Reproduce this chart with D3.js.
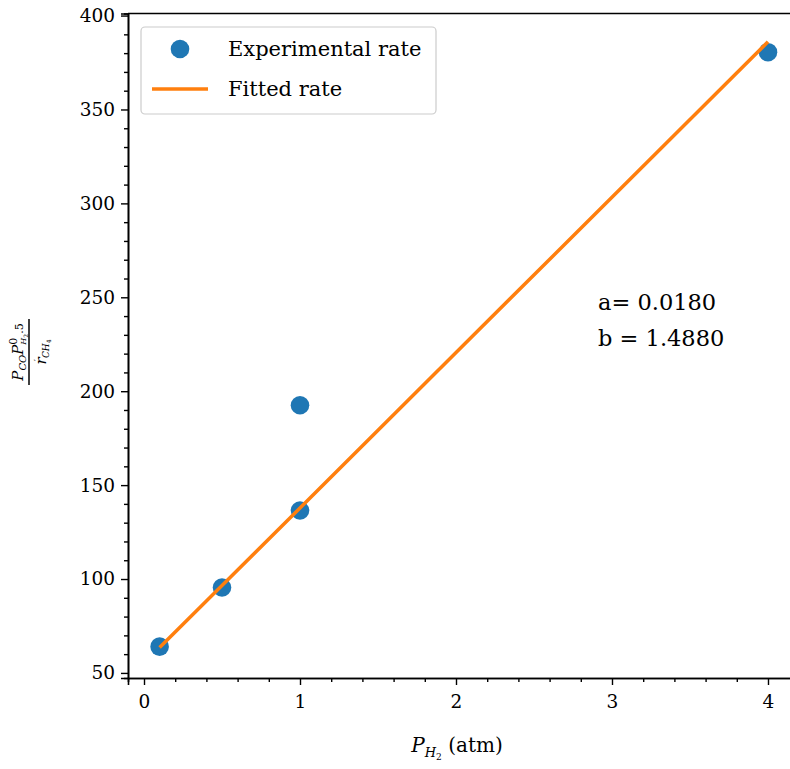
<!DOCTYPE html>
<html>
<head>
<meta charset="utf-8">
<script src="https://cdn.jsdelivr.net/npm/d3@7"></script>
<style>
  body { margin: 0; background: #fff; }
  svg text { font-family: "DejaVu Serif", serif; fill: #000; }
</style>
</head>
<body>
<div id="chart"></div>
<script>
// данные
const pressure = [0.1, 0.5, 1, 1, 4]
const experimental = [64, 95.5, 136.5, 192.5, 380.5]
const fitted = [63.6, 96.5, 137.8, 137.8, 386]
const xTicks = [0, 1, 2, 3, 4]
const yTicks = [50, 100, 150, 200, 250, 300, 350, 400]
const seriesNames = ['Experimental rate', 'Fitted rate']
const fitParams = ['a= 0.0180', 'b = 1.4880']

const W = 790, H = 769
const mLeft = 128, mRight = 800, mTop = 13.5, mBottom = 678

const svg = d3.select('#chart').append('svg')
    .attr('width', W).attr('height', H)

const x = d3.scaleLinear().domain([-0.1026, 4.2052]).range([mLeft, mRight])
const y = d3.scaleLinear().domain([47.3, 401.1]).range([mBottom, mTop])

// оси
svg.append('g').attr('transform', `translate(0,${mBottom})`)
    .call(d3.axisBottom(x).tickValues(xTicks).tickFormat(d3.format('d')).tickSize(7).tickPadding(10))
svg.append('g').attr('transform', `translate(0,${mBottom})`)
    .call(d3.axisBottom(x).tickValues(d3.range(0, 4.21, 0.2).filter(v => Math.abs(v - Math.round(v)) > 1e-6)).tickFormat('').tickSize(4))
svg.append('g').attr('transform', `translate(${mLeft},0)`)
    .call(d3.axisLeft(y).tickValues(yTicks).tickSize(7).tickPadding(6))
svg.append('g').attr('transform', `translate(${mLeft},0)`)
    .call(d3.axisLeft(y).tickValues(d3.range(50, 401, 10).filter(v => v % 50 !== 0)).tickFormat('').tickSize(4))

svg.selectAll('.domain').attr('stroke', '#000').attr('stroke-width', 1.6)
svg.selectAll('.tick line').attr('stroke', '#000').attr('stroke-width', 1.4)
svg.selectAll('.tick text').style('font-size', '18.5px')

// верхняя рамка
svg.append('line').attr('x1', mLeft).attr('x2', W).attr('y1', mTop).attr('y2', mTop)
    .attr('stroke', '#000').attr('stroke-width', 1.6)

// точки и линия
svg.selectAll('circle.pt').data(pressure).enter().append('circle')
    .attr('class', 'pt')
    .attr('cx', d => x(d))
    .attr('cy', (d, i) => y(experimental[i]))
    .attr('r', 9.3)
    .attr('fill', '#1f77b4')

const line = d3.line().x(d => x(d[0])).y(d => y(d[1]))
svg.append('path')
    .datum(pressure.map((p, i) => [p, fitted[i]]))
    .attr('d', line)
    .attr('fill', 'none')
    .attr('stroke', '#ff7f0e')
    .attr('stroke-width', 3.5)

// легенда
const lg = svg.append('g')
lg.append('rect').attr('x', 141).attr('y', 27).attr('width', 295).attr('height', 87)
    .attr('rx', 4).attr('fill', 'rgba(255,255,255,0.8)').attr('stroke', '#cccccc').attr('stroke-width', 1.2)
lg.append('circle').attr('cx', 180).attr('cy', 49).attr('r', 9.3).attr('fill', '#1f77b4')
lg.append('line').attr('x1', 152).attr('x2', 208).attr('y1', 89).attr('y2', 89)
    .attr('stroke', '#ff7f0e').attr('stroke-width', 3.5)
lg.selectAll('text').data(seriesNames).enter().append('text')
    .attr('x', 228).attr('y', (d, i) => 56 + i * 40)
    .style('font-size', '21px')
    .text(d => d)

// параметры
svg.selectAll('text.par').data(fitParams).enter().append('text')
    .attr('class', 'par')
    .attr('x', 598).attr('y', (d, i) => 310 + i * 36)
    .style('font-size', '22.5px')
    .text(d => d)

// подпись оси x
const xl = svg.append('text').attr('x', 457).attr('y', 752).attr('text-anchor', 'middle')
    .style('font-size', '20px')
xl.append('tspan').style('font-style', 'italic').text('P')
xl.append('tspan').attr('dy', 5).style('font-size', '13px').style('font-style', 'italic').text('H')
xl.append('tspan').attr('dy', 3).style('font-size', '9px').text('2')
xl.append('tspan').attr('dy', -8).text(' (atm)')

// подпись оси y (дробь)
const yl = svg.append('g').attr('transform', 'translate(29,352) rotate(-90)')
const num = yl.append('text').attr('x', 0).attr('y', -6).attr('text-anchor', 'middle').style('font-size', '15px')
num.append('tspan').style('font-style', 'italic').text('P')
num.append('tspan').attr('dy', 3).style('font-size', '10px').style('font-style', 'italic').text('CO')
num.append('tspan').attr('dy', -3).style('font-style', 'italic').text('P')
num.append('tspan').attr('dy', -6).style('font-size', '11px').text('0')
num.append('tspan').attr('dx', -7).attr('dy', 9).style('font-size', '8px').style('font-style', 'italic').text('H')
num.append('tspan').attr('dy', 2).style('font-size', '6px').text('2')
num.append('tspan').attr('dy', -5).style('font-size', '11px').text('.5')
yl.append('line').attr('x1', -33).attr('x2', 33).attr('y1', 0).attr('y2', 0)
    .attr('stroke', '#000').attr('stroke-width', 1.5)
const den = yl.append('text').attr('x', 0).attr('y', 17).attr('text-anchor', 'middle').style('font-size', '15px')
den.append('tspan').style('font-style', 'italic').text('r')
den.append('tspan').attr('dx', -4).attr('dy', -5).style('font-size', '10px').text('\u2032')
den.append('tspan').attr('dx', 1).attr('dy', 8).style('font-size', '9px').style('font-style', 'italic').text('CH')
den.append('tspan').attr('dy', 2).style('font-size', '6px').text('4')
</script>
</body>
</html>
